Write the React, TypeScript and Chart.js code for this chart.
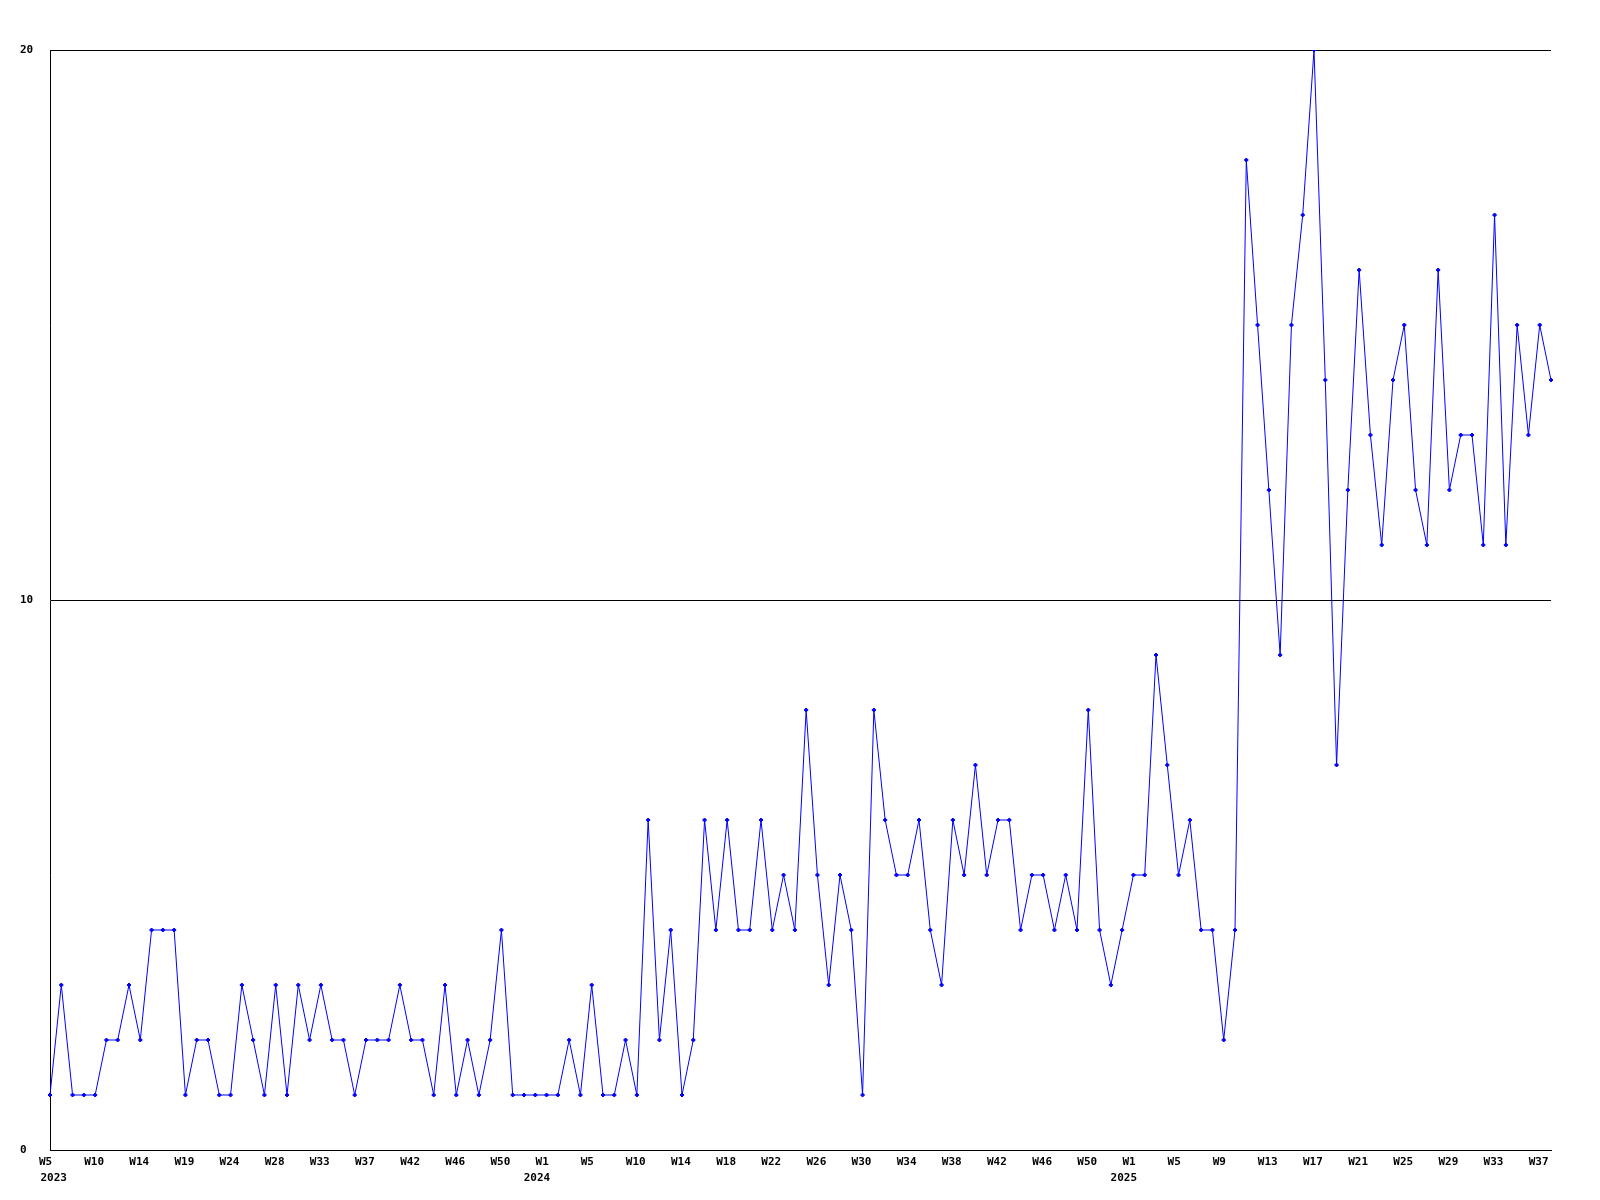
import React, { useEffect, useRef } from "react";
import { Chart, registerables } from "chart.js";

Chart.register(...registerables);

// Week numbers present in the data, per year
const weeks2023 = [
  5, 6, 7, 8, 10, 11, 12, 13, 14, 15, 16, 17, 19, 20, 21, 22, 24, 25, 26, 27, 28, 29,
  30, 31, 33, 34, 35, 36, 37, 38, 39, 40, 42, 43, 44, 45, 46, 47, 48, 49, 50, 51, 52, 53,
];
const weeks2024 = [
  1, 2, 3, 4, 5, 6, 7, 9, 10, 11, 12, 13, 14, 15, 16, 17, 18, 19, 20, 21, 22, 23, 24, 25,
  26, 27, 28, 29, 30, 31, 32, 33, 34, 35, 36, 37, 38, 39, 40, 41, 42, 43, 44, 45, 46, 47,
  48, 49, 50, 51, 52, 53,
];
const weeks2025 = [
  1, 2, 3, 4, 5, 6, 7, 8, 9, 10, 11, 12, 13, 14, 15, 16, 17, 18, 19, 20, 21, 22, 23, 24,
  25, 26, 27, 28, 29, 30, 31, 32, 33, 34, 35, 36, 37, 38,
];

// Weekly counts
const values = [
  1, 3, 1, 1, 1, 2, 2, 3, 2, 4,
  4, 4, 1, 2, 2, 1, 1, 3, 2, 1,
  3, 1, 3, 2, 3, 2, 2, 1, 2, 2,
  2, 3, 2, 2, 1, 3, 1, 2, 1, 2,
  4, 1, 1, 1, 1, 1, 2, 1, 3, 1,
  1, 2, 1, 6, 2, 4, 1, 2, 6, 4,
  6, 4, 4, 6, 4, 5, 4, 8, 5, 3,
  5, 4, 1, 8, 6, 5, 5, 6, 4, 3,
  6, 5, 7, 5, 6, 6, 4, 5, 5, 4,
  5, 4, 8, 4, 3, 4, 5, 5, 9, 7,
  5, 6, 4, 4, 2, 4, 18, 15, 12, 9,
  15, 17, 20, 14, 7, 12, 16, 13, 11, 14,
  15, 12, 11, 16, 12, 13, 13, 11, 17, 11,
  15, 13, 15, 14,
];

const yMin = 0;
const yMax = 20;
const yStep = 10;
const xTickEvery = 4;

const categories = [
  ...weeks2023.map((w) => ({ year: 2023, week: w })),
  ...weeks2024.map((w) => ({ year: 2024, week: w })),
  ...weeks2025.map((w) => ({ year: 2025, week: w })),
];
const labels = categories.map((c) => `${c.year}-W${c.week}`);

const FONT = { family: "'DejaVu Sans Mono', monospace", size: 11, weight: "bold" as const, lineHeight: "16px" };

const isLabelled = (i: number) => i % xTickEvery === 0;
const isFirstOfYear = (i: number) =>
  isLabelled(i) && (i < xTickEvery || categories[i - xTickEvery].year !== categories[i].year);

export default function App() {
  const ref = useRef<HTMLCanvasElement | null>(null);

  useEffect(() => {
    if (!ref.current) return;
    const chart = new Chart(ref.current, {
      type: "line",
      data: {
        labels,
        datasets: [
          {
            data: values,
            xAxisID: "x",
            yAxisID: "y",
            borderColor: "#0000ff",
            backgroundColor: "#0000ff",
            borderWidth: 1,
            pointStyle: "rectRot",
            pointRadius: 2,
            pointBorderWidth: 1,
            pointBackgroundColor: "#0000ff",
            pointBorderColor: "#0000ff",
            tension: 0,
            fill: false,
          },
        ],
      },
      options: {
        animation: false,
        responsive: true,
        maintainAspectRatio: false,
        layout: { padding: { left: 20, right: 49, top: 50, bottom: 0 } },
        plugins: { legend: { display: false }, tooltip: { enabled: false }, title: { display: false } },
        scales: {
          x: {
            type: "category",
            position: "bottom",
            weight: 0,
            offset: false,
            grid: { display: false, drawTicks: false },
            border: { display: true, color: "#000000", width: 1 },
            ticks: {
              autoSkip: false,
              maxRotation: 0,
              minRotation: 0,
              align: "start",
              labelOffset: -11,
              padding: 4,
              color: "#000000",
              font: FONT,
              callback: (_v: any, index: number) => {
                if (!isLabelled(index)) return "";
                return `W${categories[index].week}`;
              },
            },
            afterFit: (s: any) => {
              s.height = 20;
            },
          },
          xYear: {
            type: "category",
            position: "bottom",
            weight: 1,
            offset: false,
            grid: { display: false, drawTicks: false },
            border: { display: false },
            ticks: {
              autoSkip: false,
              maxRotation: 0,
              minRotation: 0,
              align: "center",
              labelOffset: -9.6,
              padding: 0,
              color: "#000000",
              font: FONT,
              callback: (_v: any, index: number) => {
                if (!isFirstOfYear(index)) return "";
                const y = `${categories[index].year}`;
                return index === 0 ? `    ${y}` : y;
              },
            },
            afterFit: (s: any) => {
              s.height = 30;
            },
          },
          y: {
            min: yMin,
            max: yMax,
            grid: { display: true, color: "#000000", lineWidth: 1, drawTicks: false },
            border: { display: true, color: "#000000", width: 1 },
            ticks: {
              stepSize: yStep,
              crossAlign: "far",
              color: "#000000",
              font: FONT,
            },
            afterFit: (s: any) => {
              s.width = 30;
            },
          },
        },
      },
    });
    return () => chart.destroy();
  }, []);

  return (
    <div style={{ position: "absolute", left: 0, top: 0, width: 1600, height: 1200, background: "#fff" }}>
      <canvas ref={ref} />
    </div>
  );
}
